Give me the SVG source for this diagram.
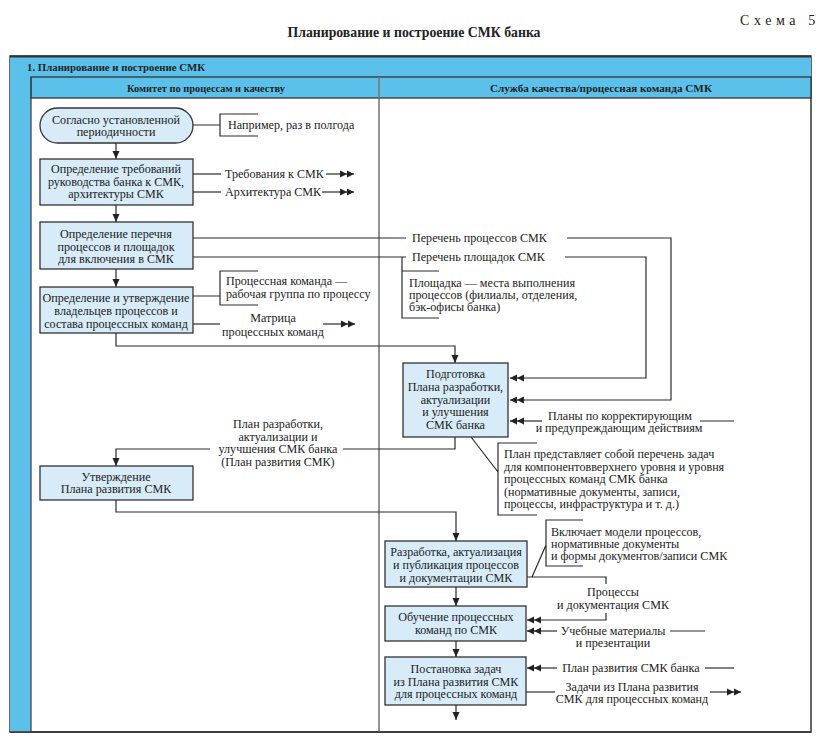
<svg xmlns="http://www.w3.org/2000/svg" width="824" height="748" viewBox="0 0 824 748">
<style>
text{font-family:"Liberation Serif","Times New Roman",serif;font-size:12.1px;fill:#222}
.c{text-anchor:middle}
.hd{font-weight:bold;font-size:11px}
.nd{fill:#d7ecf8;stroke:#333;stroke-width:1.3}
.ln{fill:none;stroke:#2a2a2a;stroke-width:1.2}
.band{fill:#5cc1ea}
</style>
<defs>
<marker id="arr" viewBox="0 0 8 8" refX="8" refY="4" markerWidth="8" markerHeight="8" markerUnits="userSpaceOnUse" orient="auto"><path d="M0,0.5 L8,4 L0,7.5z" fill="#222"/></marker>
<marker id="dbl" viewBox="0 0 14 8" refX="14" refY="4" markerWidth="14" markerHeight="8" markerUnits="userSpaceOnUse" orient="auto"><path d="M0,0.5 L7,4 L0,7.5z M7,0.5 L14,4 L7,7.5z" fill="#222"/></marker>
</defs>
<rect width="824" height="748" fill="#fff"/>
<g id="title">
<text x="414" y="37" class="c" style="font-weight:bold;font-size:15px" textLength="253" lengthAdjust="spacingAndGlyphs">Планирование и построение СМК банка</text>
<text x="740" y="25" style="font-size:14px;letter-spacing:4.6px">Схема 5</text>
</g>
<g id="frame">
<rect x="10" y="56" width="801" height="676" fill="#fff" stroke="#333" stroke-width="1.5"/>
<rect class="band" x="10" y="56" width="801" height="21"/>
<rect class="band" x="10" y="77" width="21" height="655"/>
<rect class="band" x="31" y="77" width="780" height="21" stroke="#333" stroke-width="1.3"/>
<line x1="10" y1="56.5" x2="811" y2="56.5" stroke="#333" stroke-width="1.8"/>
<line x1="31" y1="77" x2="31" y2="732" stroke="#444" stroke-width="1.3"/>
<line x1="379" y1="77" x2="379" y2="732" stroke="#777" stroke-width="1.6"/>
<line x1="10" y1="732" x2="811" y2="732" stroke="#333" stroke-width="1.5"/>
<text x="27" y="71" class="hd" textLength="178" lengthAdjust="spacingAndGlyphs">1. Планирование и построение СМК</text>
<text x="206" y="92" class="hd c" textLength="158" lengthAdjust="spacingAndGlyphs">Комитет по процессам и качеству</text>
<text x="601" y="92" class="hd c" textLength="222" lengthAdjust="spacingAndGlyphs">Служба качества/процессная команда СМК</text>
</g>
<g id="n1">
<rect class="nd" x="40" y="108" width="153" height="35" rx="17.5"/>
<text x="116" y="124" class="c">Согласно установленной</text>
<text x="116" y="136" class="c">периодичности</text>
</g>
<g id="n2">
<rect class="nd" x="40" y="159" width="153" height="46"/>
<text x="116" y="173" class="c">Определение требований</text>
<text x="116" y="186" class="c">руководства банка к СМК,</text>
<text x="116" y="198" class="c">архитектуры СМК</text>
</g>
<g id="n3">
<rect class="nd" x="40" y="222" width="153" height="47"/>
<text x="116" y="238" class="c">Определение перечня</text>
<text x="116" y="251" class="c">процессов и площадок</text>
<text x="116" y="263" class="c">для включения в СМК</text>
</g>
<g id="n4">
<rect class="nd" x="40" y="287" width="153" height="46"/>
<text x="116" y="302" class="c">Определение и утверждение</text>
<text x="116" y="315" class="c">владельцев процессов и</text>
<text x="116" y="328" class="c">состава процессных команд</text>
</g>
<g id="n5">
<rect class="nd" x="403" y="363" width="105" height="74"/>
<text x="455.5" y="378" class="c">Подготовка</text>
<text x="455.5" y="391" class="c">Плана разработки,</text>
<text x="455.5" y="404" class="c">актуализации</text>
<text x="455.5" y="416" class="c">и улучшения</text>
<text x="455.5" y="429" class="c">СМК банка</text>
</g>
<g id="n6">
<rect class="nd" x="40" y="466" width="153" height="34"/>
<text x="116" y="481" class="c">Утверждение</text>
<text x="116" y="493" class="c">Плана развития СМК</text>
</g>
<g id="n7">
<rect class="nd" x="385" y="541" width="142" height="46"/>
<text x="456" y="556" class="c">Разработка, актуализация</text>
<text x="456" y="569" class="c">и публикация процессов</text>
<text x="456" y="582" class="c">и документации СМК</text>
</g>
<g id="n8">
<rect class="nd" x="385" y="606" width="141" height="35"/>
<text x="456" y="621" class="c">Обучение процессных</text>
<text x="456" y="634" class="c">команд по СМК</text>
</g>
<g id="n9">
<rect class="nd" x="385" y="657" width="141" height="48"/>
<text x="456" y="673" class="c">Постановка задач</text>
<text x="456" y="686" class="c">из Плана развития СМК</text>
<text x="456" y="698" class="c">для процессных команд</text>
</g>
<g id="connectors">
<path class="ln" d="M116,143 V159" marker-end="url(#arr)"/>
<path class="ln" d="M193,125 H220 M258,114 H220 V136 H258"/>
<path class="ln" d="M193,174 H221"/>
<path class="ln" d="M326,174 H354" marker-end="url(#dbl)"/>
<path class="ln" d="M193,192 H221"/>
<path class="ln" d="M322,192 H354" marker-end="url(#dbl)"/>
<path class="ln" d="M116,205 V222" marker-end="url(#arr)"/>
<path class="ln" d="M193,238 H406"/>
<path class="ln" d="M567,238 H671 V400 H510" marker-end="url(#dbl)"/>
<path class="ln" d="M193,257 H406"/>
<path class="ln" d="M565,257 H646 V378 H510" marker-end="url(#dbl)"/>
<path class="ln" d="M402,257 V318 H439 M402,271 H439"/>
<path class="ln" d="M116,269 V287" marker-end="url(#arr)"/>
<path class="ln" d="M193,296 H220 M258,271 H220 V305 H258"/>
<path class="ln" d="M193,324 H220"/>
<path class="ln" d="M323,324 H355" marker-end="url(#dbl)"/>
<path class="ln" d="M116,333 V346 H455 V363" marker-end="url(#arr)"/>
<path class="ln" d="M542,421 H510" marker-end="url(#dbl)"/>
<path class="ln" d="M700,421 H734"/>
<path class="ln" d="M455,437 V449 H343"/>
<path class="ln" d="M210,449 H116 V466" marker-end="url(#arr)"/>
<path class="ln" d="M471,437 L498,472 M537,443 H498 V515 H537"/>
<path class="ln" d="M116,500 V512 H456 V541" marker-end="url(#arr)"/>
<path class="ln" d="M532,577 L546,545 M583,520 H546 V566 H583"/>
<path class="ln" d="M527,577 H606 V584"/>
<path class="ln" d="M606,613 V620 H527" marker-end="url(#dbl)"/>
<path class="ln" d="M456,587 V606" marker-end="url(#arr)"/>
<path class="ln" d="M557,631 H527" marker-end="url(#dbl)"/>
<path class="ln" d="M670,631 H705"/>
<path class="ln" d="M456,641 V657" marker-end="url(#arr)"/>
<path class="ln" d="M557,668 H527" marker-end="url(#dbl)"/>
<path class="ln" d="M705,668 H734"/>
<path class="ln" d="M526,692 H555"/>
<path class="ln" d="M710,692 H741" marker-end="url(#dbl)"/>
<path class="ln" d="M456,705 V720" marker-end="url(#arr)"/>
</g>
<g id="labels">
<text x="228" y="129">Например, раз в полгода</text>
<text x="225" y="178">Требования к СМК</text>
<text x="225" y="196">Архитектура СМК</text>
<text x="412" y="242">Перечень процессов СМК</text>
<text x="412" y="261">Перечень площадок СМК</text>
<text x="409" y="287">Площадка — места выполнения</text>
<text x="409" y="299">процессов (филиалы, отделения,</text>
<text x="409" y="311">бэк-офисы банка)</text>
<text x="226" y="285">Процессная команда —</text>
<text x="226" y="298">рабочая группа по процессу</text>
<text x="273" y="322" class="c">Матрица</text>
<text x="273" y="336" class="c">процессных команд</text>
<text x="620" y="420" class="c">Планы по корректирующим</text>
<text x="619" y="432" class="c">и предупреждающим действиям</text>
<text x="278" y="428" class="c">План разработки,</text>
<text x="278" y="441" class="c">актуализации и</text>
<text x="278" y="453" class="c">улучшения СМК банка</text>
<text x="278" y="466" class="c">(План развития СМК)</text>
<text x="504" y="458">План представляет собой перечень задач</text>
<text x="504" y="471">для компонентовверхнего уровня и уровня</text>
<text x="504" y="483">процессных команд СМК банка</text>
<text x="504" y="496">(нормативные документы, записи,</text>
<text x="504" y="508">процессы, инфраструктура и т. д.)</text>
<text x="551" y="536">Включает модели процессов,</text>
<text x="551" y="548">нормативные документы</text>
<text x="551" y="560">и формы документов/записи СМК</text>
<text x="613" y="596" class="c">Процессы</text>
<text x="613" y="609" class="c">и документация СМК</text>
<text x="613" y="635" class="c">Учебные материалы</text>
<text x="613" y="647" class="c">и презентации</text>
<text x="631" y="672" class="c">План развития СМК банка</text>
<text x="632" y="691" class="c">Задачи из Плана развития</text>
<text x="632" y="703" class="c">СМК для процессных команд</text>
</g>
</svg>
